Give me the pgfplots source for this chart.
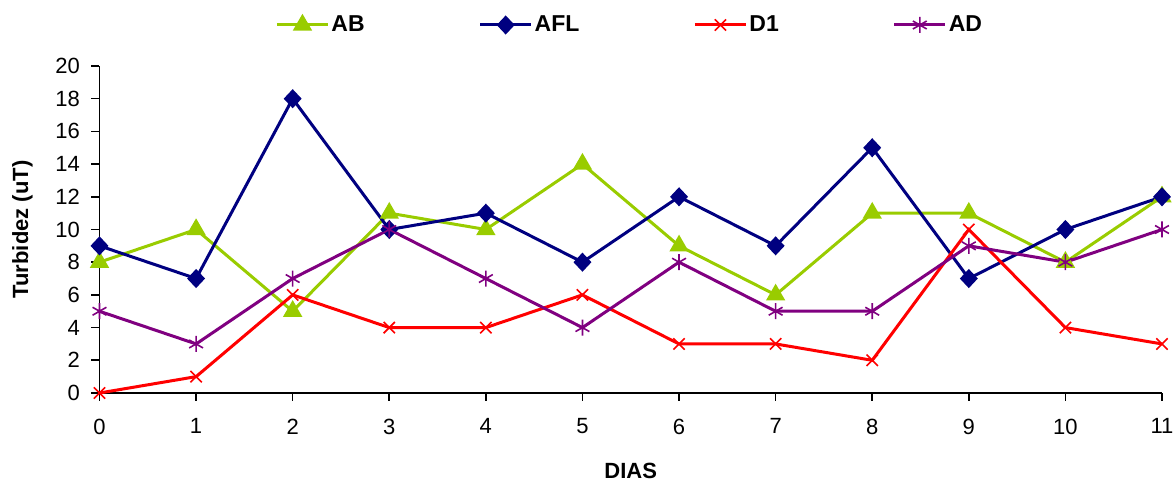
\documentclass[border=0pt]{standalone}
\usepackage{pgfplots}
\pgfplotsset{compat=1.18}
\usepackage{fontspec}
\setmainfont{Liberation Sans}
\definecolor{cAB}{RGB}{153,204,0}
\definecolor{cAFL}{RGB}{0,0,128}
\definecolor{cD}{RGB}{255,0,0}
\definecolor{cAD}{RGB}{128,0,128}
\begin{document}
\begin{tikzpicture}
\begin{axis}[
  scale only axis,
  width=531.25pt, height=163.5pt,
  xmin=0, xmax=11, ymin=0, ymax=20,
  xtick={0,...,11}, ytick={0,2,...,20},
  axis x line*=bottom, axis y line*=left,
  axis line style={line width=0.8pt},
  tick align=outside, major tick length=4pt,
  tick style={black, line width=0.8pt},
  /pgf/number format/assume math mode=true,
  ticklabel style={font=\fontsize{11}{13}\selectfont},
  yticklabel style={xshift=-2.3pt},
  xticklabel style={yshift=-5.3pt},
  xlabel={\textbf{DIAS}}, ylabel={\textbf{Turbidez (uT)}},
  label style={font=\fontsize{11}{13}\selectfont},
  xlabel style={at={(axis description cs:0.5,-0.2385)}, anchor=center},
  ylabel style={at={(axis description cs:-0.0725,0.5)}, anchor=center},
  clip=false,
  legend columns=4,
  legend style={draw=none, at={(axis description cs:0.5,1)}, anchor=center, yshift=20.5pt,
    font=\fontsize{11.5}{13}\selectfont\bfseries,
    /tikz/every even column/.append style={column sep=55pt},
    /tikz/every odd column/.append style={column sep=-1pt}},
  legend image code/.code={\draw[#1] (0pt,0pt) -- (25.5pt,0pt); \draw[#1, only marks] plot coordinates {(12.75pt,0pt)};},
  every axis plot/.append style={line width=1.5pt},
]
\addplot[color=cAB, mark=triangle*, mark size=4.8pt, mark options={solid, line width=0.8pt}] coordinates {
(0,8)(1,10)(2,5)(3,11)(4,10)(5,14)(6,9)(7,6)(8,11)(9,11)(10,8)(11,12)};
\addlegendentry{AB}
\addplot[color=cAFL, mark=diamond*, mark size=4.2pt, mark options={solid, xscale=1.25, line width=0.8pt}] coordinates {
(0,9)(1,7)(2,18)(3,10)(4,11)(5,8)(6,12)(7,9)(8,15)(9,7)(10,10)(11,12)};
\addlegendentry{AFL}
\addplot[color=cD, mark=x, mark size=4pt, mark options={solid, line width=0.8pt}] coordinates {
(0,0)(1,1)(2,6)(3,4)(4,4)(5,6)(6,3)(7,3)(8,2)(9,10)(10,4)(11,3)};
\addlegendentry{D1}
\addplot[color=cAD, mark=asterisk, mark size=4pt, mark options={solid, line width=0.8pt}] coordinates {
(0,5)(1,3)(2,7)(3,10)(4,7)(5,4)(6,8)(7,5)(8,5)(9,9)(10,8)(11,10)};
\addlegendentry{AD}
\coordinate (ll) at (rel axis cs:0,0);
\coordinate (ur) at (rel axis cs:1,1);
\end{axis}
\pgfresetboundingbox
\path ([shift={(-49.75pt,-44pt)}]ll) rectangle ([shift={(6pt,33pt)}]ur);
\end{tikzpicture}
\end{document}
